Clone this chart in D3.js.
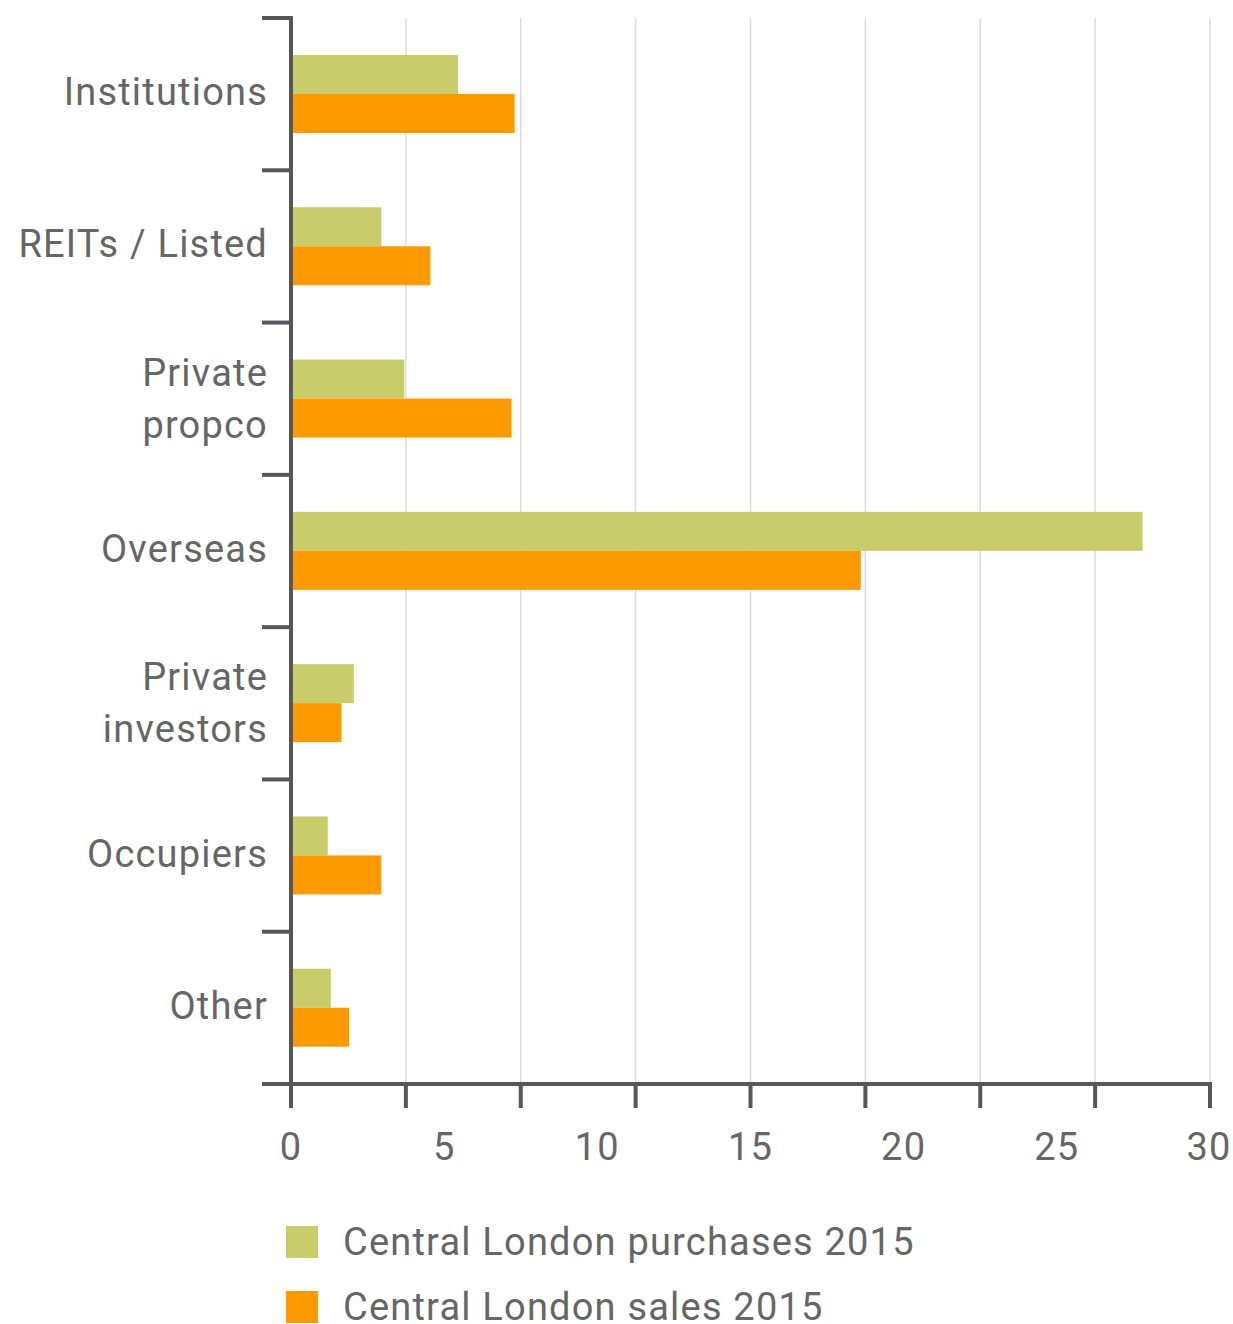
<!DOCTYPE html>
<html>
<head>
<meta charset="utf-8">
<script src="https://cdn.jsdelivr.net/npm/d3@7"></script>
<style>
  html, body { margin: 0; padding: 0; background: #fff; }
  svg text { font-family: Roboto, "Open Sans", sans-serif; fill: #666; letter-spacing: 1.2px; }
</style>
</head>
<body>
<svg id="chart" width="1233" height="1324"></svg>
<script>
// Investor types (top to bottom); multi-line labels split with "\n"
const categories = ["Institutions", "REITs / Listed", "Private\npropco", "Overseas",
                    "Private\ninvestors", "Occupiers", "Other"];
const purchases2015 = [5.45, 2.95, 3.7, 27.8, 2.05, 1.2, 1.3];
const sales2015     = [7.3, 4.55, 7.2, 18.6, 1.65, 2.95, 1.9];
const seriesNames = ["Central London purchases 2015", "Central London sales 2015"];
const seriesColors = ["#c9cc6a", "#fd9a00"];
const tickLabels = [0, 5, 10, 15, 20, 25, 30];
const gridSteps = 8;

const svg = d3.select("#chart");
const axisColor = "#55575a";

const x = d3.scaleLinear().domain([0, 30]).range([291, 1210]);
const y = d3.scaleBand().domain(categories).range([18, 1084]).paddingInner(0).paddingOuter(0);
const inner = d3.scaleBand().domain([0, 1]).range([37, 115]);

// vertical gridlines at equal divisions of the axis
const gridVals = d3.range(gridSteps + 1).map(i => 30 * i / gridSteps);
svg.append("g").selectAll("line").data(gridVals.slice(1)).join("line")
  .attr("x1", d => x(d)).attr("x2", d => x(d))
  .attr("y1", 18).attr("y2", 1084)
  .attr("stroke", "#dcdcdc").attr("stroke-width", 1.5);

// bars
const rows = categories.map((c, i) => ({ c, vals: [purchases2015[i], sales2015[i]] }));
const g = svg.append("g").selectAll("g").data(rows).join("g")
  .attr("transform", d => `translate(0,${y(d.c)})`);
g.selectAll("rect").data(d => d.vals.map((v, k) => ({ v, k }))).join("rect")
  .attr("x", x(0))
  .attr("y", d => inner(d.k))
  .attr("width", d => x(d.v) - x(0))
  .attr("height", inner.bandwidth())
  .attr("fill", d => seriesColors[d.k]);

// category axis: line with ticks at band boundaries
const ax = svg.append("g");
ax.append("line").attr("x1", 291).attr("x2", 291).attr("y1", 16).attr("y2", 1086)
  .attr("stroke", axisColor).attr("stroke-width", 4);
ax.selectAll("line.tk").data(categories).join("line").attr("class", "tk")
  .attr("x1", 262).attr("x2", 291)
  .attr("y1", d => y(d)).attr("y2", d => y(d))
  .attr("stroke", axisColor).attr("stroke-width", 4);

// category labels
ax.selectAll("text").data(categories).join("text")
  .attr("text-anchor", "end")
  .attr("font-size", 38)
  .attr("y", d => y(d) + y.bandwidth() / 2)
  .each(function (d) {
    const lines = d.split("\n");
    const t = d3.select(this);
    const lh = 52;
    const start = lines.length === 1 ? 11 : -13;
    lines.forEach((ln, i) => {
      t.append("tspan").attr("x", 268).attr("dy", i === 0 ? start : lh).text(ln);
    });
  });

// value axis
const vx = svg.append("g");
vx.append("line").attr("x1", 262).attr("x2", 1212).attr("y1", 1084).attr("y2", 1084)
  .attr("stroke", axisColor).attr("stroke-width", 4);
vx.selectAll("line.tk").data(gridVals).join("line").attr("class", "tk")
  .attr("x1", d => x(d)).attr("x2", d => x(d))
  .attr("y1", 1084).attr("y2", 1108)
  .attr("stroke", axisColor).attr("stroke-width", 4);
vx.selectAll("text").data(tickLabels).join("text")
  .attr("x", (d, i) => x(d) + (i === tickLabels.length - 1 ? -1 : 0))
  .attr("y", 1160)
  .attr("text-anchor", "middle")
  .attr("font-size", 38)
  .text(d => d);

// legend
const lg = svg.append("g").selectAll("g").data(seriesNames).join("g")
  .attr("transform", (d, i) => `translate(286,${1226 + i * 65})`);
lg.append("rect").attr("width", 32).attr("height", 32).attr("fill", (d, i) => seriesColors[i]);
lg.append("text").attr("x", 57).attr("y", 29).attr("font-size", 38).text(d => d);
</script>
</body>
</html>
